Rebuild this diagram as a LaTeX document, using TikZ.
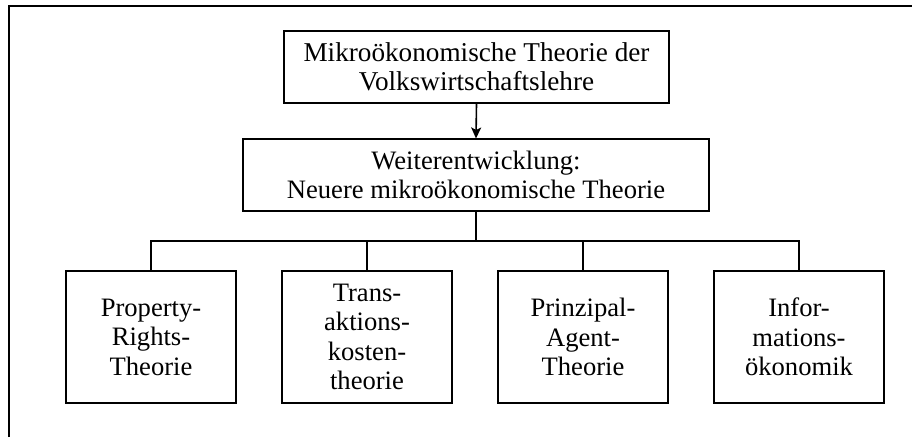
\documentclass[tikz,border=0pt]{standalone}
\usepackage{fontspec}
\setmainfont{Liberation Serif}
\usetikzlibrary{arrows.meta}

\tikzset{
  box/.style={draw, line width=1.6pt, rectangle, inner sep=0pt, align=center,
    font=\fontsize{26.6}{29.5}\selectfont},
  leafbox/.style={box, minimum width=170pt, minimum height=132pt},
  link/.style={line width=1.6pt},
  frameline/.style={line width=2pt}
}

\begin{document}
\begin{tikzpicture}[x=1pt, y=-1pt]
  \useasboundingbox (0,0) rectangle (912,437);

  % open frame: top and left edges only
  \draw[frameline] (9,437) -- (9,5.7) -- (912,5.7);

  % upper boxes
  \node[box, minimum width=385pt, minimum height=72pt,
        font=\fontsize{27.2}{29.5}\selectfont] (mt) at (476.5,67)
    {Mikroökonomische Theorie der\\Volkswirtschaftslehre};
  \node[box, minimum width=466pt, minimum height=71.5pt] (wt) at (476,175)
    {Weiterentwicklung:\\Neuere mikroökonomische Theorie};

  % four branches
  \node[leafbox] (pr) at (151,337) {Property-\\Rights-\\Theorie};
  \node[leafbox] (tk) at (367,337) {Trans-\\aktions-\\kosten-\\theorie};
  \node[leafbox] (pa) at (583,337) {Prinzipal-\\Agent-\\Theorie};
  \node[leafbox] (io) at (799,337) {Infor-\\mations-\\ökonomik};

  % arrow between the upper boxes
  \draw[link, -{Stealth[length=11pt, width=10pt, inset=2.5pt]}] (mt.south) -- (wt.north);

  % tree connector
  \coordinate (j) at (476,240.7);
  \draw[link] (wt.south) -- (j);
  \draw[link] (pr.north) |- (j) -| (io.north);
  \draw[link] (tk.north) -- (tk.north |- j);
  \draw[link] (pa.north) -- (pa.north |- j);
\end{tikzpicture}
\end{document}
